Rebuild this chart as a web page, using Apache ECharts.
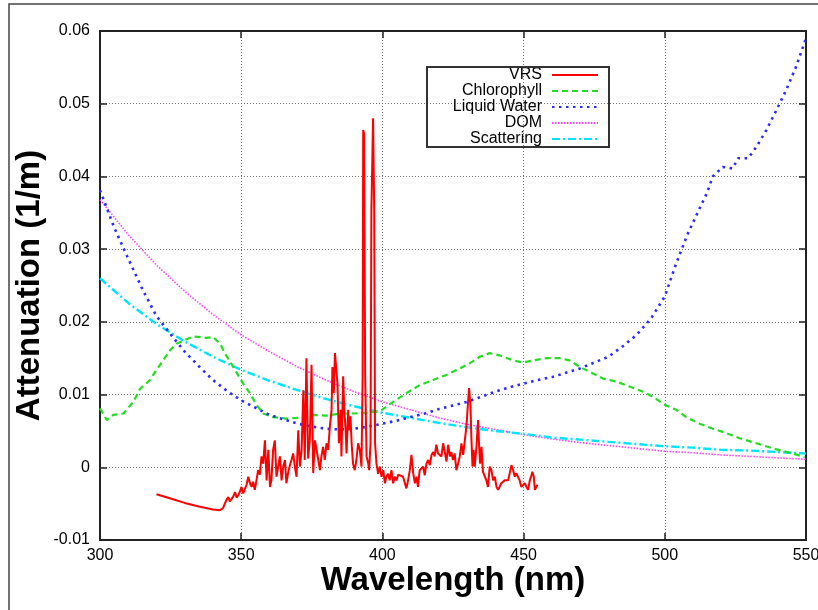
<!DOCTYPE html>
<html>
<head>
<meta charset="utf-8">
<script src="https://cdn.jsdelivr.net/npm/echarts@6/dist/echarts.min.js"></script>
<style>
  html, body { margin: 0; padding: 0; background: #fff; }
  #chart { width: 818px; height: 610px; }
</style>
</head>
<body>
<div id="chart"></div>
<script>
// Spectral attenuation components in water, 300-550 nm.
const seriesNames = ['VRS', 'Chlorophyll', 'Liquid Water', 'DOM', 'Scattering'];

// Vibrational Raman scattering filling-in (note Ca II K/H lines near 393/397 nm)
const vrs = [
  [320,-0.0037],[325,-0.0043],[330,-0.0049],[335,-0.0054],[340,-0.0058],[342.5,-0.0059],[343.6,-0.0056],
  [344.2,-0.0050],[344.8,-0.0045],[345.4,-0.0041],[346.0,-0.0047],[346.6,-0.0045],[347.2,-0.0040],[347.8,-0.0034],
  [348.4,-0.0042],[349.0,-0.0038],[349.6,-0.0033],[350.1,-0.0027],[350.7,-0.0036],[351.3,-0.0034],[351.9,-0.0024],
  [352.5,-0.0013],[353.1,-0.0022],[353.7,-0.0027],[354.2,-0.0020],[354.8,-0.0031],[355.4,-0.0018],[356.0,-0.0004],
  [356.6,-0.0010],[357.2,0.0015],[357.8,0.0005],[358.4,0.0037],[359.0,-0.0018],[359.6,0.0024],[360.2,-0.0027],
  [360.7,-0.0018],[361.3,0.0024],[361.9,0.0037],[362.5,-0.0013],[363.1,0.0001],[363.7,0.0015],[364.3,-0.0018],
  [364.9,0.0001],[365.5,0.0010],[366.0,-0.0022],[366.6,-0.0008],[367.2,0.0002],[367.8,0.0010],[368.4,0.0019],
  [369.0,0.0001],[369.6,-0.0013],[370.2,0.0051],[370.8,0.0001],[371.4,0.0024],[372.0,0.0106],[372.5,0.0010],
  [373.1,0.0150],[373.7,0.0012],[374.3,0.0037],[374.9,0.0141],[375.5,-0.0008],[376.1,0.0037],[376.7,0.0024],
  [377.3,0.0010],[377.9,-0.0004],[378.4,0.0015],[379.0,0.0028],[379.6,0.0010],[380.2,0.0033],[380.8,0.0024],
  [381.4,0.0056],[382.0,0.0079],[382.3,0.0138],[382.8,0.0102],[383.2,0.0157],[383.7,0.0157],[384.1,0.0115],
  [384.6,0.0033],[385.2,0.0079],[385.5,0.0015],[386.1,0.0125],[386.5,0.0079],[387.0,0.0051],[387.3,0.0019],
  [387.9,0.0079],[388.2,0.0051],[388.7,0.0070],[389.1,0.0033],[389.6,0.0005],[390.2,-0.0004],[390.8,0.0010],
  [391.4,0.0033],[392.0,0.0024],[392.6,0.0001],[393.0,0.0125],[393.2,0.0464],[393.5,0.0459],[393.9,0.0125],
  [394.4,0.0015],[395.0,0.0005],[395.3,-0.0004],[395.8,0.0033],[396.1,0.0354],[396.7,0.0480],[397.1,0.0354],
  [397.4,0.0033],[397.9,0.0005],[398.5,-0.0009],[399.1,0.0001],[399.7,-0.0013],[400.3,-0.0004],[400.9,-0.0022],
  [401.4,-0.0013],[402.0,-0.0009],[402.6,-0.0018],[403.2,-0.0004],[403.8,-0.0022],[404.4,-0.0013],[405.0,-0.0018],
  [405.6,-0.0010],[406.2,-0.0011],[407.3,-0.0013],[408.5,-0.0029],[409.1,-0.0018],[409.7,-0.0004],[410.3,0.0017],
  [410.9,-0.0008],[411.5,-0.0022],[412.1,-0.0013],[412.6,-0.0027],[413.2,-0.0004],[413.8,-0.0006],[414.4,0.0001],
  [415.0,-0.0011],[415.6,0.0005],[416.2,0.0010],[416.8,0.0003],[417.4,0.0017],[418.0,0.0021],[418.5,0.0015],
  [419.1,0.0031],[419.7,0.0019],[420.3,0.0017],[420.9,0.0015],[421.5,0.0033],[422.1,0.0021],[422.7,0.0008],
  [423.3,0.0031],[423.9,0.0015],[424.4,0.0021],[425.0,0.0010],[425.6,0.0019],[426.2,-0.0004],[426.8,0.0005],
  [427.4,0.0015],[428.0,0.0033],[428.6,0.0017],[429.2,0.0015],[429.8,0.0058],[430.3,0.0088],[430.7,0.0109],
  [431.2,0.0083],[431.5,0.0042],[431.9,0.0001],[432.3,0.0024],[432.7,0.0001],[433.3,0.0028],[433.9,0.0065],
  [434.2,0.0033],[434.6,0.0005],[435.1,0.0028],[435.6,-0.0006],[436.2,-0.0004],[436.8,-0.0018],[437.4,-0.0027],
  [438.0,0.0001],[438.6,-0.0004],[439.2,-0.0018],[439.8,-0.0013],[440.4,-0.0027],[441.0,-0.0031],[441.5,-0.0027],
  [442.1,-0.0022],[442.7,-0.0024],[443.3,-0.0018],[443.9,-0.0018],[444.5,-0.0018],[445.1,-0.0008],[445.7,0.0003],
  [446.3,-0.0004],[446.9,-0.0013],[447.4,-0.0008],[448.0,-0.0006],[448.6,-0.0018],[449.2,-0.0027],[449.8,-0.0029],
  [450.4,-0.0022],[451.0,-0.0027],[451.6,-0.0031],[452.2,-0.0018],[452.8,-0.0011],[453.1,-0.0006],[453.6,-0.0013],
  [454.0,-0.0031],[454.9,-0.0024]
];

const chlorophyll = [
  [300,0.0081],[302.4,0.0065],[304.7,0.0072],[308.3,0.0074],[311.8,0.0090],[314.2,0.0108],[317.7,0.0120],
  [320,0.0134],[322.4,0.0147],[324.8,0.0161],[327.1,0.0170],[330.7,0.0176],[333,0.0180],[337.7,0.0178],
  [340.1,0.0179],[342.5,0.0170],[344.5,0.0155],[347.2,0.0138],[350.7,0.0115],[353.1,0.0102],[355.4,0.0086],
  [357.8,0.0074],[361.3,0.0069],[366,0.0067],[370.8,0.0068],[375.5,0.0072],[380.2,0.0071],[384.9,0.0074],
  [389.6,0.0074],[394.3,0.0075],[399.1,0.0077],[403.8,0.0090],[408.5,0.0102],[413.2,0.0113],[417.9,0.0120],
  [422.7,0.0127],[427.4,0.0136],[430.9,0.0143],[434.5,0.0152],[438,0.0157],[441.5,0.0154],[446.2,0.0147],
  [449.8,0.0144],[453.3,0.0147],[458,0.0150],[462.8,0.0150],[466.3,0.0147],[469.9,0.0138],[474.6,0.0129],
  [478.1,0.0122],[482.8,0.0118],[487.5,0.0111],[492.3,0.0104],[495.8,0.0097],[499.9,0.0086],[504.1,0.0079],
  [507.6,0.0069],[512.3,0.0060],[517,0.0053],[521.8,0.0047],[526.5,0.0040],[532.4,0.0033],[538.3,0.0026],
  [545.3,0.0019],[549.5,0.0014]
];

const liquidWater = [
  [300,0.0381],[305,0.0330],[310,0.0287],[315,0.0245],[320,0.0208],[325,0.0183],[330,0.0159],[335,0.0139],
  [340,0.0120],[345,0.0105],[350,0.0092],[355,0.0082],[360,0.0072],[365,0.0066],[370,0.0060],[375,0.0056],
  [380,0.0053],[385,0.0052],[390,0.0053],[395,0.0056],[400,0.0060],[405,0.0064],[410,0.0069],[415,0.0074],
  [420,0.0080],[425,0.0085],[430,0.0090],[435,0.0097],[440,0.0104],[445,0.0110],[450,0.0115],[455,0.0120],
  [460,0.0124],[465,0.0130],[470,0.0136],[475,0.0144],[480,0.0152],[485,0.0166],[490,0.0182],[495,0.0204],
  [500,0.0235],[504,0.0280],[508,0.0320],[511,0.0345],[515,0.0378],[517,0.0400],[520.5,0.0413],[524,0.0411],
  [526,0.0425],[529.5,0.0425],[532.5,0.0441],[536,0.0464],[539.5,0.0491],[543,0.0519],[546.5,0.0551],[550,0.0590]
];

const smoothWl = [300,310,320,330,340,350,360,370,380,390,400,410,420,430,440,450,460,470,480,490,500,510,520,530,540,550];
const domVal = [0.0368,0.0320,0.0278,0.0242,0.0210,0.0182,0.0159,0.0138,0.0120,0.0104,0.0090,0.0079,0.0068,
                0.0059,0.0052,0.0045,0.0039,0.0034,0.0030,0.0026,0.0022,0.0020,0.0017,0.0015,0.0013,0.0011];
const scatterVal = [0.0260,0.0226,0.0197,0.0173,0.0152,0.0134,0.0119,0.0106,0.0094,0.0084,0.0075,0.0068,0.0061,
                    0.0055,0.0050,0.0046,0.0041,0.0038,0.0035,0.0032,0.0029,0.0027,0.0024,0.0023,0.0021,0.0019];

const xTicks = { min: 300, max: 550, interval: 50 };
const yTicks = { min: -0.01, max: 0.06, interval: 0.01 };

const pair = (xs, ys) => xs.map((x, i) => [x, ys[i]]);

const chart = echarts.init(document.getElementById('chart'), null, { renderer: 'canvas' });

const gridLine = { show: true, lineStyle: { color: '#777', width: 1, type: [1, 2] } };
const frameLine = { show: true, onZero: false, lineStyle: { color: '#222', width: 2 } };
const innerTick = { show: true, inside: true, length: 7, lineStyle: { color: '#222', width: 1.5 } };
const tickFont = { color: '#000', fontFamily: 'Liberation Sans, Arial, sans-serif', fontSize: 16 };
const nameFont = { color: '#000', fontFamily: 'Liberation Sans, Arial, sans-serif', fontSize: 33, fontWeight: 'bold' };

const yFmt = v => {
  const r = Math.round(v * 100) / 100;
  return Math.abs(r) < 1e-9 ? '0' : r.toFixed(2);
};

chart.setOption({
  animation: false,
  backgroundColor: '#fff',
  grid: { left: 100, top: 31, right: 12, bottom: 70, containLabel: false, outerBoundsMode: 'none' },
  legend: {
    orient: 'vertical',
    align: 'right',
    right: 219,
    top: 67,
    padding: 0,
    itemGap: 0,
    itemWidth: 46,
    itemHeight: 10,
    data: seriesNames,
    itemStyle: { opacity: 0 },
    textStyle: { color: '#000', fontFamily: 'Liberation Sans, Arial, sans-serif', fontSize: 16, lineHeight: 16,
                 padding: [0, 5, 0, 0] }
  },
  graphic: [
    { type: 'rect', silent: true, z: 0, shape: { x: 9, y: 4, width: 900, height: 700 },
      style: { fill: null, stroke: '#444', lineWidth: 1.5 } },
    { type: 'rect', silent: true, z: 100, shape: { x: 427, y: 67, width: 182, height: 80 },
      style: { fill: null, stroke: '#333', lineWidth: 2 } }
  ],
  xAxis: [
    {
      type: 'value', position: 'bottom', min: xTicks.min, max: xTicks.max, interval: xTicks.interval,
      name: 'Wavelength (nm)', nameLocation: 'middle', nameGap: 24, nameMoveOverlap: false, nameTextStyle: nameFont,
      axisLine: frameLine, axisTick: innerTick, splitLine: gridLine,
      axisLabel: Object.assign({ margin: 8 }, tickFont)
    },
    {
      type: 'value', position: 'top', min: xTicks.min, max: xTicks.max, interval: xTicks.interval,
      axisLine: frameLine, axisTick: innerTick, splitLine: { show: false }, axisLabel: { show: false }
    }
  ],
  yAxis: [
    {
      type: 'value', position: 'left', min: yTicks.min, max: yTicks.max, interval: yTicks.interval,
      name: 'Attenuation (1/m)', nameLocation: 'middle', nameRotate: 90, nameGap: 54, nameMoveOverlap: false,
      nameTextStyle: nameFont,
      axisLine: frameLine, axisTick: innerTick, splitLine: gridLine,
      axisLabel: Object.assign({ margin: 10, formatter: yFmt }, tickFont)
    },
    {
      type: 'value', position: 'right', min: yTicks.min, max: yTicks.max, interval: yTicks.interval,
      axisLine: frameLine, axisTick: innerTick, splitLine: { show: false }, axisLabel: { show: false }
    }
  ],
  series: [
    { name: 'VRS', type: 'line', data: vrs, showSymbol: false, symbol: 'none', z: 5,
      lineStyle: { color: '#ff0000', width: 2, type: 'solid' }, itemStyle: { color: '#ff0000' } },
    { name: 'Chlorophyll', type: 'line', data: chlorophyll, showSymbol: false, symbol: 'none', z: 4,
      lineStyle: { color: '#22dd22', width: 2.2, type: [6, 4] }, itemStyle: { color: '#22dd22' } },
    { name: 'Liquid Water', type: 'line', data: liquidWater, showSymbol: false, symbol: 'none', z: 4,
      lineStyle: { color: '#2a2aff', width: 2.6, type: [2.5, 4.5] }, itemStyle: { color: '#2a2aff' } },
    { name: 'DOM', type: 'line', data: pair(smoothWl, domVal), showSymbol: false, symbol: 'none', z: 3,
      lineStyle: { color: '#ff40ff', width: 1.6, type: [1.5, 1.5] }, itemStyle: { color: '#ff40ff' } },
    { name: 'Scattering', type: 'line', data: pair(smoothWl, scatterVal), showSymbol: false, symbol: 'none', z: 3,
      lineStyle: { color: '#00e5ff', width: 2.4, type: [8, 3, 2, 3] }, itemStyle: { color: '#00e5ff' } }
  ]
});
</script>
</body>
</html>
